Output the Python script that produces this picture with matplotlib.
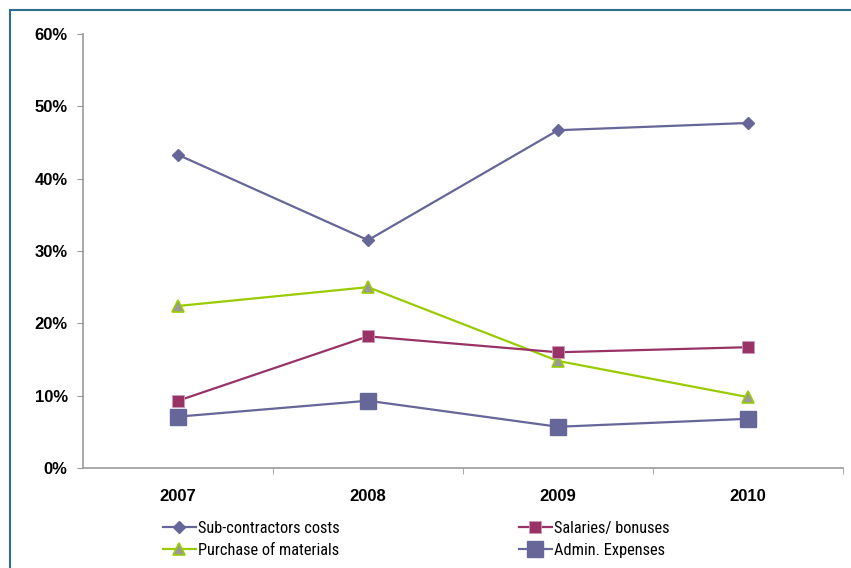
import matplotlib.pyplot as plt
import matplotlib.patches as mpatches
from matplotlib.ticker import FuncFormatter, FixedLocator

years = ["2007", "2008", "2009", "2010"]
sub_contractors = [0.433, 0.315, 0.467, 0.477]
salaries = [0.093, 0.182, 0.160, 0.167]
materials = [0.224, 0.250, 0.148, 0.098]
admin = [0.071, 0.093, 0.057, 0.068]

plt.rcParams['font.family'] = ['Liberation Sans', 'DejaVu Sans']

fig = plt.figure(figsize=(8.51, 5.68), dpi=100)
# frame round the chart area, cut off at right and bottom like the source
fig.patches.append(mpatches.Rectangle((10 / 851, -0.1), 1.2, (558 / 568) + 0.1,
                                      transform=fig.transFigure, fill=False,
                                      edgecolor='#2e6f8e', linewidth=1.5))

ax = fig.add_axes([83 / 851, 100 / 568, 760 / 851, 434 / 568])
x = range(len(years))

l_sub, = ax.plot(x, sub_contractors, color='#666699', lw=1.6, marker='D', ms=6,
                 label='Sub-contractors costs')
l_mat, = ax.plot(x, materials, color='#99cc00', lw=1.6, marker='^', ms=9,
                 markerfacecolor='#999999', markeredgecolor='#99cc00', markeredgewidth=1.2,
                 label='Purchase of materials')
l_sal, = ax.plot(x, salaries, color='#993366', lw=1.6, marker='s', ms=8,
                 markeredgecolor='#cc99bb', markeredgewidth=0.6, label='Salaries/ bonuses')
l_adm, = ax.plot(x, admin, color='#666699', lw=1.6, marker='s', ms=11,
                 label='Admin. Expenses')

ax.set_xlim(-0.5, 3.5)
ax.set_ylim(0, 0.6)
ax.set_yticks([0, 0.1, 0.2, 0.3, 0.4, 0.5, 0.6])
ax.yaxis.set_major_formatter(FuncFormatter(lambda v, p: f"{v * 100:.0f}%"))
ax.set_xticks(list(x))
ax.set_xticklabels(years)
ax.xaxis.set_minor_locator(FixedLocator([0.5, 1.5, 2.5, 3.5]))
ax.tick_params(axis='x', which='major', length=0, pad=15)
ax.tick_params(axis='x', which='minor', length=4, color='#999999', direction='out')
ax.tick_params(axis='y', length=4, color='#999999', pad=7)
for lab in ax.get_xticklabels() + ax.get_yticklabels():
    lab.set_fontweight('bold')
    lab.set_fontsize(12)

for side in ['top', 'right']:
    ax.spines[side].set_visible(False)
for side in ['left', 'bottom']:
    ax.spines[side].set_color('#999999')
    ax.spines[side].set_linewidth(1.2)

leg_font = {'family': ['Roboto Condensed', 'Liberation Sans'], 'size': 11.8}
leg_kw = dict(loc='upper left', frameon=False, handlelength=2.0, handletextpad=0.15,
              labelspacing=0.4, borderaxespad=0, borderpad=0, prop=leg_font)
fig.legend([l_sub, l_mat], [l_sub.get_label(), l_mat.get_label()],
           bbox_to_anchor=(163 / 851, 1 - 521 / 568), **leg_kw)
fig.legend([l_sal, l_adm], [l_sal.get_label(), l_adm.get_label()],
           bbox_to_anchor=(519 / 851, 1 - 521 / 568), **leg_kw)

fig.savefig('out.png', dpi=100)
